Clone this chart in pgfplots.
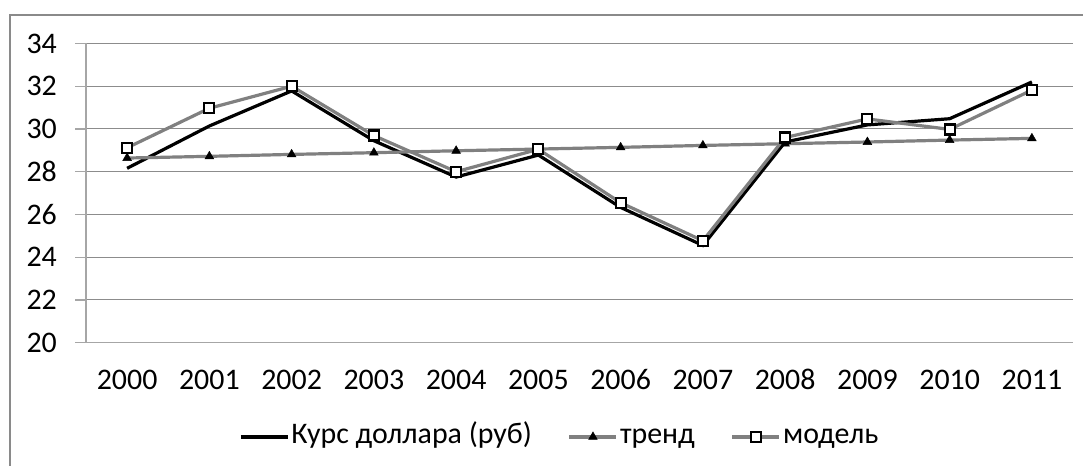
\documentclass[border=0pt]{standalone}
\usepackage{fontspec}
\setmainfont{Carlito}
\usepackage{pgfplots}
\pgfplotsset{compat=1.18}
\definecolor{gridc}{HTML}{8C8C8C}
\definecolor{axc}{HTML}{A6A6A6}
\definecolor{serg}{HTML}{808080}
\definecolor{framec}{HTML}{8A8A8A}
\begin{document}
\begin{tikzpicture}[x=1bp,y=1bp,font=\fontsize{30}{34}\selectfont]
\useasboundingbox (0,0) rectangle (1083,466);
\begin{scope}
\clip (0,0) rectangle (1083,466);
\draw[framec,line width=2.2bp] (10,451) rectangle (1100,-20);
\end{scope}
\begin{axis}[
  at={(86bp,123.3bp)}, anchor=south west,
  scale only axis, width=987bp, height=299.2bp,
  xmin=-0.5, xmax=11.5, ymin=20, ymax=34,
  axis x line*=bottom, axis y line*=left,
  axis line style={axc,line width=1.2bp,-},
  xtick={0,...,11},
  xticklabels={2000,2001,2002,2003,2004,2005,2006,2007,2008,2009,2010,2011},
  minor xtick={-0.5,0.5,...,11.5},
  ytick={20,22,...,34},
  ymajorgrids,
  major grid style={gridc,line width=1bp},
  tick align=outside,
  major tick length=11bp, minor tick length=9bp,
  xtick style={draw=none},
  minor x tick style={axc,line width=1.2bp},
  ytick style={axc,line width=1.2bp},
  /pgf/number format/assume math mode=true,
  yticklabel style={anchor=east,inner sep=0pt,xshift=-18bp},
  xticklabel style={anchor=base,inner sep=0pt,yshift=-36.3bp},
  legend columns=3,
  legend style={at={(0.479,-0.315)},anchor=center,draw=none,fill=none,
    nodes={inner sep=0pt,text height=21bp,text depth=7bp,anchor=center},
    /tikz/every odd column/.append style={column sep=2bp},
    /tikz/every even column/.append style={column sep=36bp}},
  legend image code/.code={\draw[mark repeat=2,mark phase=2,#1] plot coordinates {(0bp,0bp)(23.5bp,0bp)(47bp,0bp)};},
]
\addplot[black,line width=3.2bp,mark=none] coordinates {
(0,28.16)(1,30.14)(2,31.78)(3,29.45)(4,27.75)(5,28.78)(6,26.33)(7,24.55)(8,29.39)(9,30.19)(10,30.48)(11,32.20)};
\addlegendentry{Курс доллара (руб)}
\addplot[serg,line width=3.2bp,mark=triangle*,mark size=5bp,mark options={fill=black,draw=black,line width=0.5bp}] coordinates {
(0,28.64)(1,28.72)(2,28.81)(3,28.89)(4,28.98)(5,29.06)(6,29.14)(7,29.23)(8,29.31)(9,29.39)(10,29.48)(11,29.56)};
\addlegendentry{тренд}
\addplot[serg,line width=3.2bp,mark=square*,mark size=5bp,mark options={fill=white,draw=black,line width=2.2bp}] coordinates {
(0,29.12)(1,30.97)(2,32.00)(3,29.69)(4,28.00)(5,29.05)(6,26.55)(7,24.77)(8,29.60)(9,30.47)(10,29.98)(11,31.82)};
\addlegendentry{модель}
\end{axis}
\end{tikzpicture}
\end{document}
